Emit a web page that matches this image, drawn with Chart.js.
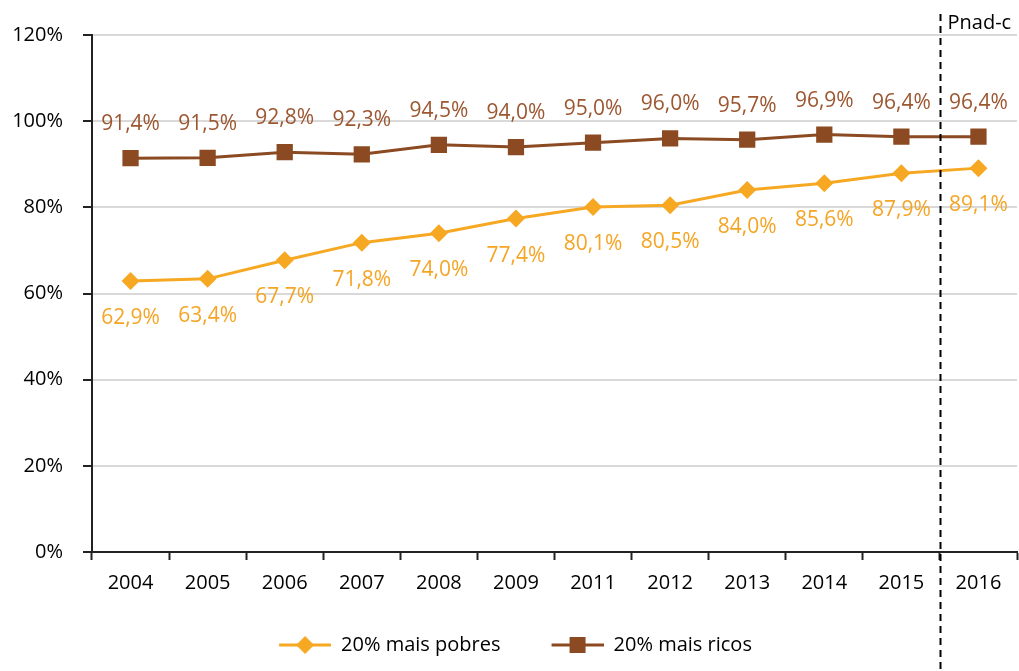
<!DOCTYPE html>
<html>
<head>
<meta charset="utf-8">
<script src="https://cdn.jsdelivr.net/npm/chart.js@4"></script>
<style>
  html, body { margin: 0; padding: 0; background: #fff; }
  #wrap { width: 1019px; height: 671px; }
</style>
</head>
<body>
<div id="wrap"><canvas id="chart"></canvas></div>
<script>
const years = ["2004", "2005", "2006", "2007", "2008", "2009", "2011", "2012", "2013", "2014", "2015", "2016"];
const maisPobres = [62.9, 63.4, 67.7, 71.8, 74.0, 77.4, 80.1, 80.5, 84.0, 85.6, 87.9, 89.1];
const maisRicos = [91.4, 91.5, 92.8, 92.3, 94.5, 94.0, 95.0, 96.0, 95.7, 96.9, 96.4, 96.4];
const seriesNames = ["20% mais pobres", "20% mais ricos"];
const breakLabel = "Pnad-c";

const FONT = "'Open Sans', sans-serif";
const ORANGE = "#f7a823";
const BROWN = "#8b4a22";

// line+marker images for the legend (blank lead-in widens the gap between items)
function legendIcon(color, style) {
  const c = document.createElement("canvas");
  c.width = 66; c.height = 20;
  const g = c.getContext("2d");
  g.strokeStyle = color; g.lineWidth = 3;
  g.beginPath(); g.moveTo(14, 10); g.lineTo(66, 10); g.stroke();
  g.fillStyle = color;
  if (style === "diamond") {
    g.beginPath(); g.moveTo(40, 1); g.lineTo(49, 10); g.lineTo(40, 19); g.lineTo(31, 10); g.closePath(); g.fill();
  } else {
    g.fillRect(32, 2, 16, 16);
  }
  return c;
}

const fmt = v => v.toFixed(1).replace(".", ",") + "%";

// value labels + the dashed Pnad-c break line
const extras = {
  id: "extras",
  afterDatasetsDraw(chart) {
    const ctx = chart.ctx;
    ctx.save();
    ctx.font = "21px " + FONT;
    ctx.textAlign = "center";
    ctx.textBaseline = "middle";
    chart.data.datasets.forEach((ds, i) => {
      const meta = chart.getDatasetMeta(i);
      meta.data.forEach((pt, j) => {
        ctx.fillStyle = i === 0 ? "#f5a524" : "#9c5630";
        const dy = i === 0 ? 37 : -34;
        ctx.fillText(fmt(ds.data[j]), pt.x, pt.y + dy);
      });
    });
    const x = chart.scales.x;
    const bx = Math.round((x.getPixelForValue(10) + x.getPixelForValue(11)) / 2) + 0.5;
    ctx.strokeStyle = "#000";
    ctx.lineWidth = 2;
    ctx.setLineDash([7, 5]);
    ctx.beginPath();
    ctx.moveTo(bx, 14);
    ctx.lineTo(bx, chart.height);
    ctx.stroke();
    ctx.setLineDash([]);
    ctx.fillStyle = "#000";
    ctx.textAlign = "left";
    ctx.font = "20px " + FONT;
    ctx.fillText(breakLabel, bx + 7, 23);
    ctx.restore();
  }
};

new Chart(document.getElementById("chart"), {
  type: "line",
  data: {
    labels: years,
    datasets: [
      {
        label: seriesNames[0],
        data: maisPobres,
        borderColor: ORANGE,
        backgroundColor: ORANGE,
        borderWidth: 3,
        pointStyle: "rectRot",
        pointRadius: 9,
        pointHoverRadius: 9,
        pointBorderWidth: 0,
        tension: 0
      },
      {
        label: seriesNames[1],
        data: maisRicos,
        borderColor: BROWN,
        backgroundColor: BROWN,
        borderWidth: 3,
        pointStyle: "rect",
        pointRadius: 11.5,
        pointHoverRadius: 11.5,
        pointBorderWidth: 0,
        tension: 0
      }
    ]
  },
  options: {
    responsive: true,
    maintainAspectRatio: false,
    animation: false,
    layout: { autoPadding: false, padding: { top: 35, right: 2, left: 0, bottom: 6 } },
    scales: {
      x: {
        offset: true,
        afterFit: s => { s.height = 46; s.paddingLeft = 0; s.paddingRight = 0; },
        grid: {
          offset: true,
          drawOnChartArea: false,
          tickLength: 8,
          tickColor: "#222",
          tickWidth: 2
        },
        border: { color: "#222", width: 2 },
        ticks: { color: "#000", font: { size: 20, family: FONT }, padding: 11 }
      },
      y: {
        min: 0,
        max: 120,
        afterFit: s => { s.width = 92; },
        grid: { color: "#d9d9d9", lineWidth: 2, tickLength: 9, tickColor: "#222", tickWidth: 2 },
        border: { color: "#222", width: 2 },
        ticks: {
          stepSize: 20,
          color: "#000",
          font: { size: 20, family: FONT },
          padding: 20,
          callback: v => v + "%"
        }
      }
    },
    plugins: {
      tooltip: { enabled: false },
      legend: {
        position: "bottom",
        labels: {
          usePointStyle: true,
          pointStyleWidth: 66,
          boxHeight: 20,
          padding: 37,
          color: "#000",
          font: { size: 20, family: FONT },
          generateLabels: chart => chart.data.datasets.map((ds, i) => ({
            text: ds.label,
            datasetIndex: i,
            hidden: false,
            fillStyle: ds.backgroundColor,
            strokeStyle: ds.borderColor,
            lineWidth: 0,
            pointStyle: legendIcon(ds.borderColor, i === 0 ? "diamond" : "square")
          }))
        }
      }
    }
  },
  plugins: [extras]
});
</script>
</body>
</html>
